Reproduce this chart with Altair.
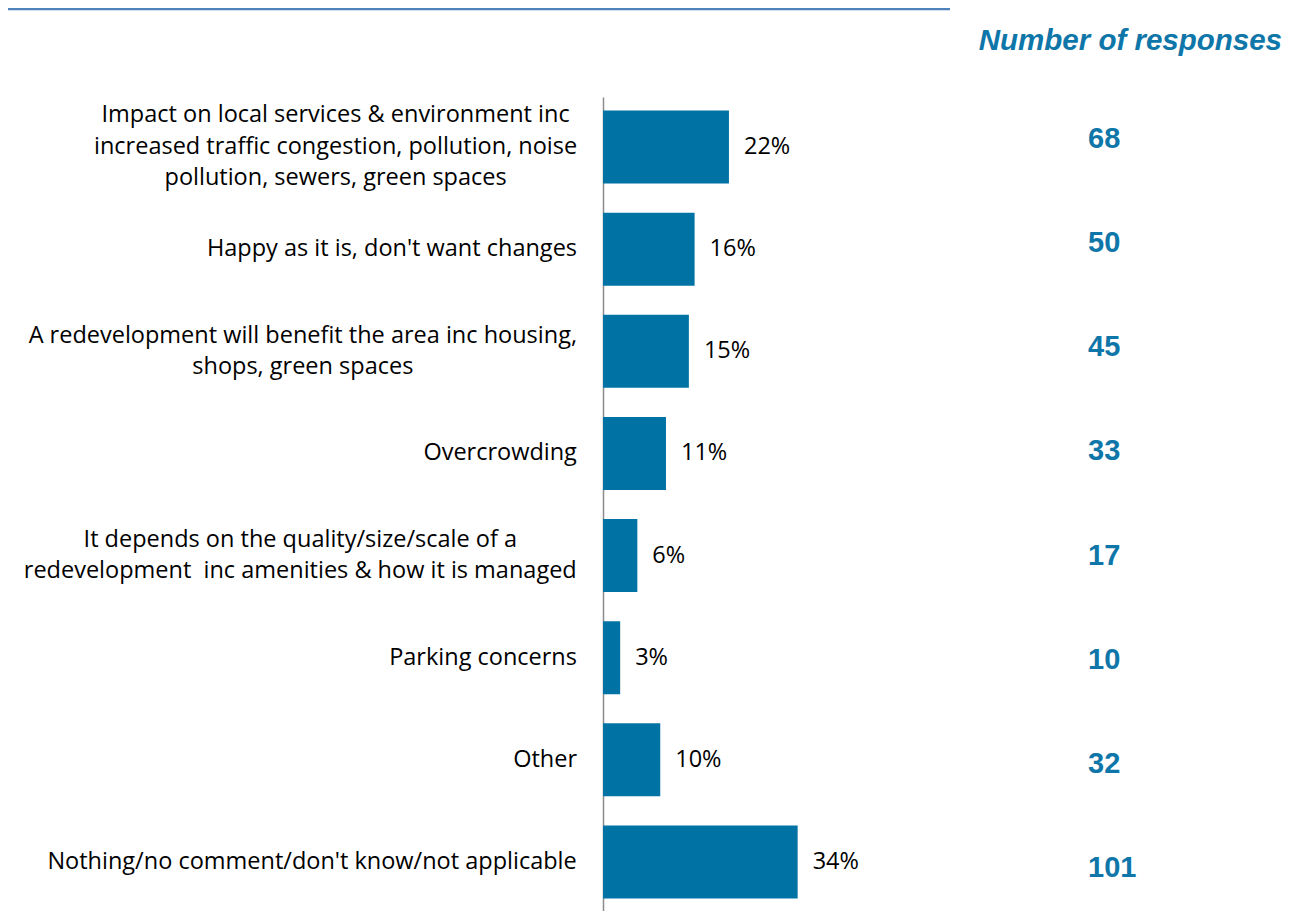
import altair as alt
import pandas as pd
import glob
import os
import struct

categories = [
    "Impact on local services & environment inc|increased traffic congestion, pollution, noise|pollution, sewers, green spaces",
    "Happy as it is, don't want changes",
    "A redevelopment will benefit the area inc housing,|shops, green spaces",
    "Overcrowding",
    "It depends on the quality/size/scale of a|redevelopment \u00a0inc amenities & how it is managed",
    "Parking concerns",
    "Other",
    "Nothing/no comment/don't know/not applicable",
]
percentages = [22, 16, 15, 11, 6, 3, 10, 34]
responses = [68, 50, 45, 33, 17, 10, 32, 101]

BAR = "#0073A4"
NUM = "#0E76A8"
FONT = "Open Sans"
FS = 23.5
LH = 31.5
W = 679
H = 815
LABEL_GAP = 26
PAD_INNER = 0.285
PAD_OUTER = 0.132


# ---- text width measurement (to centre multi-line category labels) ----
def parse_ttf(path):
    with open(path, "rb") as f:
        data = f.read()
    off = struct.unpack(">I", data[12:16])[0] if data[:4] == b"ttcf" else 0
    num_tables = struct.unpack(">H", data[off + 4:off + 6])[0]
    tables = {}
    for i in range(num_tables):
        rec = off + 12 + 16 * i
        tag = data[rec:rec + 4].decode("latin1")
        _, toff, tlen = struct.unpack(">III", data[rec + 4:rec + 16])
        tables[tag] = (toff, tlen)
    hd = tables["head"][0]
    upem = struct.unpack(">H", data[hd + 18:hd + 20])[0]
    hh = tables["hhea"][0]
    nhm = struct.unpack(">H", data[hh + 34:hh + 36])[0]
    hoff = tables["hmtx"][0]
    adv = [struct.unpack(">H", data[hoff + 4 * i:hoff + 4 * i + 2])[0] for i in range(nhm)]
    coff = tables["cmap"][0]
    nsub = struct.unpack(">H", data[coff + 2:coff + 4])[0]
    cmap = {}
    for i in range(nsub):
        pid, eid, soff = struct.unpack(">HHI", data[coff + 4 + 8 * i:coff + 12 + 8 * i])
        st = coff + soff
        fmt = struct.unpack(">H", data[st:st + 2])[0]
        if pid == 3 and eid == 1 and fmt == 4:
            segx2 = struct.unpack(">H", data[st + 6:st + 8])[0]
            seg = segx2 // 2
            ends = struct.unpack(">%dH" % seg, data[st + 14:st + 14 + segx2])
            starts = struct.unpack(">%dH" % seg, data[st + 16 + segx2:st + 16 + 2 * segx2])
            deltas = struct.unpack(">%dh" % seg, data[st + 16 + 2 * segx2:st + 16 + 3 * segx2])
            rpos = st + 16 + 3 * segx2
            roffs = struct.unpack(">%dH" % seg, data[rpos:rpos + segx2])
            for s in range(seg):
                for c in range(starts[s], min(ends[s], 0x2FF) + 1):
                    if roffs[s] == 0:
                        g = (c + deltas[s]) & 0xFFFF
                    else:
                        addr = rpos + 2 * s + roffs[s] + 2 * (c - starts[s])
                        g = struct.unpack(">H", data[addr:addr + 2])[0]
                        if g:
                            g = (g + deltas[s]) & 0xFFFF
                    cmap[c] = g
            break
    if not cmap:
        raise ValueError("no cmap")

    def width(text, size):
        tot = 0
        for ch in text:
            g = cmap.get(ord(ch), 0)
            tot += adv[min(g, nhm - 1)]
        return tot * size / upem

    return width


def find_width_fn():
    cands = []
    for root in ["/usr/share/fonts", "/usr/local/share/fonts", os.path.expanduser("~/.fonts"),
                 os.path.expanduser("~/.local/share/fonts")]:
        cands += glob.glob(os.path.join(root, "**", "*OpenSans*.ttf"), recursive=True)
        cands += glob.glob(os.path.join(root, "**", "*Open_Sans*.ttf"), recursive=True)
    cands = [c for c in cands if "italic" not in os.path.basename(c).lower()]
    cands.sort(key=lambda p: (0 if "Regular" in p else (1 if "[" in p else 2), p))
    for p in cands:
        try:
            return parse_ttf(p)
        except Exception:
            continue
    return lambda text, size: len(text) * 0.56 * size


text_width = find_width_fn()

# ---- tables ----
df = pd.DataFrame({"cat": categories, "pct": percentages, "n": responses})
df["pct_label"] = df["pct"].astype(str) + "%"

step = H / (len(categories) - PAD_INNER + 2 * PAD_OUTER)
half_band = step * (1 - PAD_INNER) / 2

rows = []
for cat in categories:
    lines = cat.split("|")
    n = len(lines)
    maxw = max(text_width(l, FS) for l in lines)
    centre = -LABEL_GAP - maxw / 2
    for i, l in enumerate(lines):
        rows.append({"cat": cat, "line": l,
                     "off": half_band + (i - (n - 1) / 2) * LH, "xc": centre})
lines_df = pd.DataFrame(rows)

y_band = alt.Y(
    "cat:N",
    sort=categories,
    scale=alt.Scale(paddingInner=PAD_INNER, paddingOuter=PAD_OUTER),
    axis=alt.Axis(title=None, ticks=False, labels=False, domainColor="#8c8c8c", domainWidth=1.5),
)
y_plain = alt.Y("cat:N", sort=categories)
x = alt.X("pct:Q", scale=alt.Scale(domain=[0, 118.6]), axis=None)

bars = alt.Chart(df).mark_bar(color=BAR).encode(x=x, y=y_band)

pct_text = alt.Chart(df).mark_text(
    align="left", baseline="middle", dx=15, font=FONT, fontSize=FS, color="#000000"
).encode(x=x, y=y_plain, text="pct_label:N")

cat_text = alt.Chart(lines_df).mark_text(
    align="center", baseline="middle", font=FONT, fontSize=FS, color="#000000"
).encode(
    x=alt.X("xc:Q", scale=None),
    y=y_plain,
    yOffset=alt.YOffset("off:Q", scale=None),
    text="line:N",
)

main = alt.layer(bars, pct_text, cat_text)

num_text = alt.Chart(df).mark_text(
    align="left", baseline="middle", dy=-1, font="Liberation Sans", fontSize=29,
    fontWeight="bold", color=NUM
).encode(
    x=alt.value(485),
    y=alt.Y("cat:N", sort=categories, scale=alt.Scale(type="point", padding=0.414), axis=None),
    text="n:Q",
)

title_df = pd.DataFrame({"t": ["Number of responses"]})
title_text = alt.Chart(title_df).mark_text(
    align="right", baseline="alphabetic", font="Liberation Sans", fontSize=29.5,
    fontWeight="bold", fontStyle="italic", color=NUM
).encode(x=alt.value(W), y=alt.value(-47), text="t:N")

top_rule = alt.Chart(title_df).mark_rule(color="#4F81BD", strokeWidth=2.5).encode(
    x=alt.value(-603), x2=alt.value(347), y=alt.value(-88)
)

chart = alt.layer(main, num_text, title_text, top_rule).resolve_scale(
    y="independent"
).properties(
    width=W,
    height=H,
    background="white",
    autosize=alt.AutoSizeParams(type="none"),
    padding={"left": 595, "top": 89, "right": 10, "bottom": 0},
).configure_view(stroke="transparent", strokeWidth=0)

chart.save("out.html", embed_options={"renderer": "svg", "actions": False})
